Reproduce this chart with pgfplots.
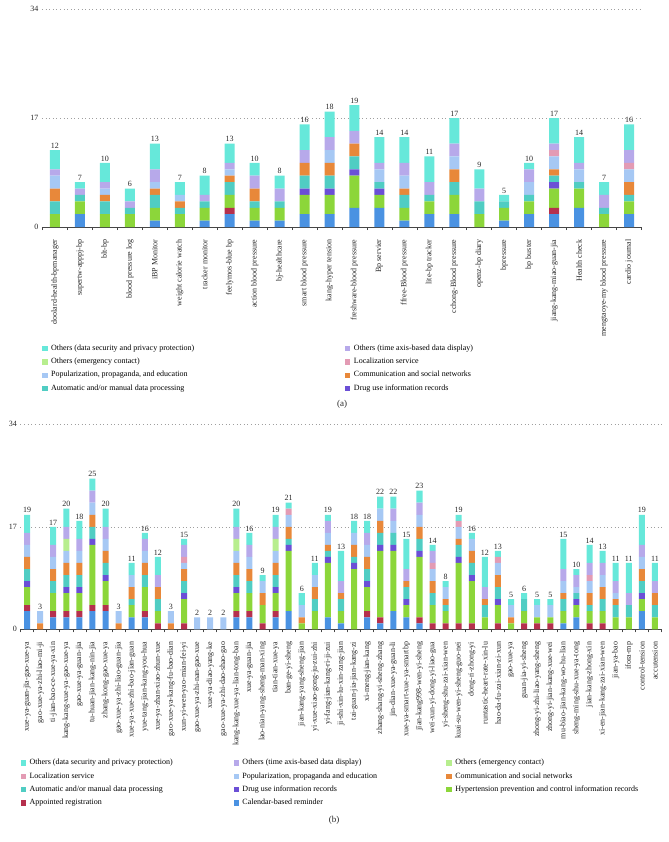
\documentclass[border=0pt]{standalone}
\usepackage{fontspec}
\setmainfont{Liberation Serif}
\usepackage{pgfplots}
\pgfplotsset{compat=1.18}
\usepackage{pgfplotstable}

\definecolor{cSec}{HTML}{66E8DA}
\definecolor{cTime}{HTML}{B7A9EA}
\definecolor{cEmer}{HTML}{B7EE8E}
\definecolor{cLoc}{HTML}{E39BB4}
\definecolor{cPop}{HTML}{A6C8F4}
\definecolor{cComm}{HTML}{E8883A}
\definecolor{cAuto}{HTML}{50CDC3}
\definecolor{cDrug}{HTML}{6B4FD6}
\definecolor{cHyp}{HTML}{8CD63A}
\definecolor{cApp}{HTML}{B5304D}
\definecolor{cCal}{HTML}{4A92E2}

% panel (a)
\pgfplotstableread{
x cal app hyp drug auto comm pop loc emer time sec tot
0  0 0 2 0 2 2 2 0 0 1 3 12
1  2 0 2 0 1 0 0 0 0 1 1 7
2  0 0 2 0 2 1 1 0 0 1 3 10
3  0 0 2 0 1 0 0 0 0 1 2 6
4  1 0 2 0 2 1 1 0 0 2 4 13
5  0 0 2 0 1 1 1 0 0 0 2 7
6  1 0 2 0 1 0 0 0 0 1 3 8
7  2 1 2 0 2 1 1 0 0 1 3 13
8  1 0 2 0 1 2 0 0 0 2 2 10
9  1 0 2 0 1 0 0 0 0 2 2 8
10 2 0 3 1 2 2 0 0 0 2 4 16
11 2 0 3 1 2 2 2 0 0 2 4 18
12 3 0 5 1 2 2 0 0 0 2 4 19
13 3 0 2 1 1 0 2 0 0 1 4 14
14 1 0 2 0 2 1 2 0 0 2 4 14
15 2 0 2 0 1 0 0 0 0 2 4 11
16 2 0 3 0 2 2 2 0 0 2 4 17
17 0 0 2 0 2 0 0 0 0 2 3 9
18 1 0 2 0 1 0 0 0 0 0 1 5
19 2 0 2 0 1 0 2 0 0 2 1 10
20 2 1 3 1 1 1 2 1 0 1 4 17
21 3 0 3 0 1 0 2 0 0 1 4 14
22 0 0 2 0 1 0 0 0 0 2 2 7
23 2 0 2 0 1 2 2 1 0 2 4 16
}\tA

% panel (b)
\pgfplotstableread{
x cal app hyp drug auto comm pop loc emer time sec tot
0  3 1 3 1 2 2 2 0 0 2 3 19
1  0 0 0 0 0 1 2 0 0 0 0 3
2  2 1 3 0 2 2 2 0 0 2 3 17
3  2 1 3 1 2 2 2 0 2 2 3 20
4  2 1 3 1 2 2 2 0 0 2 3 18
5  3 1 10 1 2 2 2 0 0 2 2 25
6  3 1 4 1 2 2 2 0 0 2 3 20
7  0 0 0 0 0 1 2 0 0 0 0 3
8  2 0 2 0 1 2 2 0 0 0 2 11
9  2 1 4 0 2 2 2 0 0 2 1 16
10 0 1 2 0 2 2 0 0 0 2 3 12
11 0 0 0 0 0 1 2 0 0 0 0 3
12 0 1 4 1 2 2 1 1 0 2 1 15
13 0 0 0 0 0 0 2 0 0 0 0 2
14 0 0 0 0 0 0 2 0 0 0 0 2
15 0 0 0 0 0 0 2 0 0 0 0 2
16 2 1 3 1 2 2 2 0 2 2 3 20
17 2 1 3 0 2 2 2 0 0 2 2 16
18 0 1 3 0 0 2 2 0 0 0 1 9
19 2 1 3 1 2 2 2 0 2 2 2 19
20 3 0 10 1 1 2 2 1 0 0 1 21
21 0 0 1 0 0 1 2 0 0 0 2 6
22 0 0 3 0 2 2 2 0 0 0 2 11
23 2 0 9 1 1 1 2 0 0 2 1 19
24 1 0 2 0 2 1 0 0 0 2 5 13
25 0 0 10 1 1 2 2 0 0 0 2 18
26 2 1 4 1 2 2 2 0 0 2 2 18
27 1 1 11 1 2 2 2 0 0 0 2 22
28 3 0 10 1 2 0 2 0 0 2 2 22
29 2 0 2 1 2 1 0 0 0 2 5 15
30 1 1 10 1 2 2 2 0 0 2 2 23
31 0 1 3 0 2 2 2 1 0 2 1 14
32 0 1 2 0 1 1 2 0 0 0 1 8
33 0 1 10 1 2 1 2 1 0 0 1 19
34 0 1 7 1 2 2 2 0 0 0 1 16
35 0 0 2 0 2 1 0 0 0 2 5 12
36 0 1 3 1 2 2 2 1 0 0 1 13
37 0 0 1 0 0 1 2 0 0 0 1 5
38 0 1 2 0 2 0 0 0 0 0 1 6
39 0 1 1 0 0 0 2 0 0 0 1 5
40 0 1 1 0 0 0 2 0 0 0 1 5
41 1 0 2 0 2 1 2 0 0 2 5 15
42 2 0 2 1 1 0 1 0 0 2 1 10
43 0 1 2 0 1 2 2 1 0 2 3 14
44 0 1 2 0 2 2 2 0 0 2 2 13
45 0 0 2 0 2 1 1 0 0 2 3 11
46 0 0 2 0 2 0 0 0 0 2 5 11
47 3 0 2 1 2 2 2 0 0 2 5 19
48 0 0 2 0 2 2 0 0 0 2 3 11
}\tB

\newcommand{\fs}{\fontsize{8bp}{9.5bp}\selectfont}

\pgfplotsset{
  lsq/.style={legend image code/.code={\fill[#1] (0bp,-2.2bp) rectangle (4.4bp,2.2bp); \path (6.5bp,0bp);}},
  panel/.style={
    ybar stacked, scale only axis,
    ymin=0, ymax=34, ytick={0,17,34},
    axis x line*=bottom, axis y line*=left,
    y axis line style={draw=none},
    x axis line style={gray!55!black, line width=0.6bp},
    ytick style={draw=none},
    major tick length=0pt,
    minor tick length=3bp,
    tick align=outside,
    minor tick style={gray!55!black, line width=0.6bp},
    ymajorgrids,
    grid style={gray!75, line width=0.5bp, dash pattern=on 0.6bp off 3bp},
    tick label style={font=\fs, text=black!85},
    xticklabel style={rotate=90, anchor=east},
    xticklabel shift=9bp,
    /pgf/number format/assume math mode=true,
    legend style={draw=none, fill=none, font=\fs, inner sep=0pt,
      anchor=north west, cells={anchor=west}, row sep=2.3bp},
  },
  tots/.style={
    scale only axis, hide axis,
    ymin=0, ymax=34,
    /pgf/number format/assume math mode=true,
    every node near coord/.append style={font=\fs, text=black!85, anchor=south, inner sep=1.5bp},
  },
}

\newcommand{\stackplots}[1]{%
  \addplot[fill=cCal,draw=none] table[x=x,y=cal]{#1};
  \addplot[fill=cApp,draw=none] table[x=x,y=app]{#1};
  \addplot[fill=cHyp,draw=none] table[x=x,y=hyp]{#1};
  \addplot[fill=cDrug,draw=none] table[x=x,y=drug]{#1};
  \addplot[fill=cAuto,draw=none] table[x=x,y=auto]{#1};
  \addplot[fill=cComm,draw=none] table[x=x,y=comm]{#1};
  \addplot[fill=cPop,draw=none] table[x=x,y=pop]{#1};
  \addplot[fill=cLoc,draw=none] table[x=x,y=loc]{#1};
  \addplot[fill=cEmer,draw=none] table[x=x,y=emer]{#1};
  \addplot[fill=cTime,draw=none] table[x=x,y=time]{#1};
  \addplot[fill=cSec,draw=none] table[x=x,y=sec]{#1};
}
\newcommand{\totals}[1]{%
  \addplot[draw=none, mark=none, nodes near coords, point meta=explicit] table[x=x,y=tot,meta=tot]{#1};
}

\begin{document}
\begin{tikzpicture}
\useasboundingbox (0bp,0bp) rectangle (669bp,-842bp);

\begin{axis}[panel,
  at={(42bp,-227bp)}, anchor=south west,
  width=600bp, height=218bp,
  xmin=-0.52, xmax=23.52, bar width=0.4,
  xtick={0,...,23},
  minor xtick={-0.5,0.5,...,23.5},
  xticklabels={doolard-health-bpmanager, supertw-apppj-bp, blt-bp, blood pressure log, iBP Monitor, weight calorie watch, tracker monitor, feelymos-blue bp, action blood pressure, bj-healthcare, smart blood pressure, kang-hyper tension, freshware-blood pressure, Bp servier, ffree-Blood pressure, lite-bp tracker, cchong-Blood pressure, openz-bp diary, bpressure, bp buster, jiang-kang-miao-guan-jia, Health check, mengtaoye-my blood pressure, cardio journal},
  legend columns=2,
  legend style={at={(axis description cs:0.0,-0.53)}},
]
\addlegendimage{lsq=cSec}\addlegendentry{\makebox[292bp][l]{Others (data security and privacy protection)}}
\addlegendimage{lsq=cTime}\addlegendentry{Others (time axis-based data display)}
\addlegendimage{lsq=cEmer}\addlegendentry{\makebox[292bp][l]{Others (emergency contact)}}
\addlegendimage{lsq=cLoc}\addlegendentry{Localization service}
\addlegendimage{lsq=cPop}\addlegendentry{\makebox[292bp][l]{Popularization, propaganda, and education}}
\addlegendimage{lsq=cComm}\addlegendentry{Communication and social networks}
\addlegendimage{lsq=cAuto}\addlegendentry{\makebox[292bp][l]{Automatic and/or manual data processing}}
\addlegendimage{lsq=cDrug}\addlegendentry{Drug use information records}
\stackplots{\tA}
\end{axis}
\begin{axis}[tots,
  at={(42bp,-227bp)}, anchor=south west,
  width=600bp, height=218bp,
  xmin=-0.52, xmax=23.52]
\totals{\tA}
\end{axis}

\node[font=\fontsize{9bp}{10bp}\selectfont, text=black!85] at (342bp,-404bp) {(a)};

\begin{axis}[panel,
  at={(20.5bp,-629.3bp)}, anchor=south west,
  width=641bp, height=205bp,
  xmin=-0.5, xmax=48.5, bar width=0.46,
  xtick={0,...,48},
  minor xtick={-0.5,0.5,...,48.5},
  xticklabels={xue-ya-guan-jīa-gao-xue-ya, gao-xue-ya-zhi-liao-mi-ji, ti-jian-bao-ce-xue-ya-xin, kang-kang-xue-ya-gao-xue-ya, gao-xue-ya-guan-jia, tu-huan-jian-kang-nin-jia, zhang-kong-gao-xue-ya, gao-xue-ya-zhi-liao-guan-jia, xue-ya-xue-zhi-bao-jīan-guan, yue-tang-jian-kang-you-hua, xue-ya-zhan-xiao-zhun-xue, gao-xue-ya-kang-fu-bao-dian, xun-yi-wen-yao-mian-fei-yi, gao-xue-ya-zhi-nan-gao-xue, xue-ya-diao-yang-ke, gao-xue-ya-zhi-dao-shao-gao, kang-kang-xue-ya-lian-tong-ban, xue-ya-guan-jia, lao-nian-yang-sheng-man-xing, tian-tian-xue-ya, ban-ge-yi-sheng, jian-kang-yang-sheng-jian, yi-xue-xiao-gong-ju-zui-zhi, yi-fang-jian-kang-ri-ji-zui, ji-shi-xin-lu-xin-zang-jian, tai-guan-jia-jian-kang-zi, xi-meng-jian-kang, zhang-shang-yi-sheng-zhang, jin-dian-xue-ya-guan-li, xue-ya-smart-xue-ya-smartbp, jīan-kang998-wen-yi-sheng, wei-xun-yi-dong-yi-liao-gua, yi-sheng-shu-zai-xian-wen, kuai-su-wen-yi-sheng-guo-nei, dong-ri-zhong-yi, runtastic-heart-rate-xin-lu, hao-da-fu-zai-xian-zi-xun, gao-xue-ya, guan-jia-yi-sheng, zhong-yi-zhi-liao-yang-sheng, zhong-yi-jian-kang-xue-wei, mu-biao-jian-kang-wo-hu-lian, sheng-ming-shu-xue-ya-tong, jian-kang-zhong-xin, xi-en-jian-kang-zai-xian-wen, jian-ya-bao, ifora-mp, control-tension, accutension},
  legend columns=3,
  legend style={at={(axis description cs:0.0,-0.623)}},
]
\addlegendimage{lsq=cSec}\addlegendentry{\makebox[202bp][l]{Others (data security and privacy protection)}}
\addlegendimage{lsq=cTime}\addlegendentry{\makebox[202bp][l]{Others (time axis-based data display)}}
\addlegendimage{lsq=cEmer}\addlegendentry{Others (emergency contact)}
\addlegendimage{lsq=cLoc}\addlegendentry{\makebox[202bp][l]{Localization service}}
\addlegendimage{lsq=cPop}\addlegendentry{\makebox[202bp][l]{Popularization, propaganda and education}}
\addlegendimage{lsq=cComm}\addlegendentry{Communication and social networks}
\addlegendimage{lsq=cAuto}\addlegendentry{\makebox[202bp][l]{Automatic and/or manual data processing}}
\addlegendimage{lsq=cDrug}\addlegendentry{\makebox[202bp][l]{Drug use information records}}
\addlegendimage{lsq=cHyp}\addlegendentry{Hypertension prevention and control information records}
\addlegendimage{lsq=cApp}\addlegendentry{\makebox[202bp][l]{Appointed registration}}
\addlegendimage{lsq=cCal}\addlegendentry{\makebox[202bp][l]{Calendar-based reminder}}
\stackplots{\tB}
\end{axis}
\begin{axis}[tots,
  at={(20.5bp,-629.3bp)}, anchor=south west,
  width=641bp, height=205bp,
  xmin=-0.5, xmax=48.5]
\totals{\tB}
\end{axis}

\node[font=\fontsize{9bp}{10bp}\selectfont, text=black!85] at (334bp,-820bp) {(b)};
\end{tikzpicture}
\end{document}
